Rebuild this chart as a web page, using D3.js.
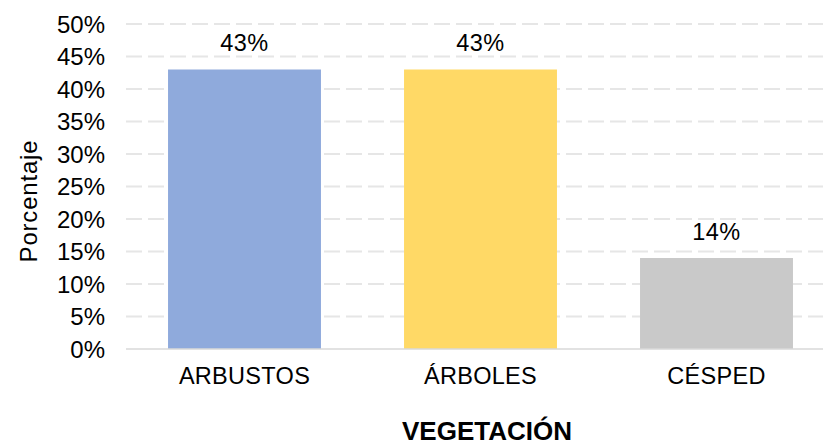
<!DOCTYPE html>
<html>
<head>
<meta charset="utf-8">
<script src="https://cdn.jsdelivr.net/npm/d3@7"></script>
<style>
  body { margin: 0; background: #fff; }
  text { font-family: "Liberation Sans", Arial, sans-serif; fill: #000; }
</style>
</head>
<body>
<div id="chart"></div>
<script>
// --- datos ---
const categorias = ["ARBUSTOS", "ÁRBOLES", "CÉSPED"];
const valores = [43, 43, 14];
const colores = ["#8faadc", "#ffd966", "#c9c9c9"];
const ticks = [0, 5, 10, 15, 20, 25, 30, 35, 40, 45, 50];

const W = 823, H = 448;
const svg = d3.select("#chart").append("svg")
    .attr("width", W).attr("height", H);

const x = d3.scaleBand()
    .domain(categorias)
    .range([126.5, 834.5])
    .paddingInner(0.352)
    .paddingOuter(0.176);

const y = d3.scaleLinear().domain([0, 50]).range([349, 24]);

// líneas de cuadrícula
svg.selectAll(".grid")
    .data(ticks.filter(d => d > 0))
    .enter().append("line")
    .attr("x1", 126).attr("x2", W)
    .attr("y1", d => y(d)).attr("y2", d => y(d))
    .attr("stroke", "#e6e6e6")
    .attr("stroke-width", 2)
    .attr("stroke-dasharray", "16,6");

// etiquetas del eje Y
svg.selectAll(".ytick")
    .data(ticks)
    .enter().append("text")
    .attr("x", 105)
    .attr("y", d => y(d) + 8.5)
    .attr("text-anchor", "end")
    .style("font-size", "24px")
    .text(d => d + "%");

// barras
svg.selectAll(".bar")
    .data(valores)
    .enter().append("rect")
    .attr("x", (d, i) => x(categorias[i]))
    .attr("width", x.bandwidth())
    .attr("y", d => y(d))
    .attr("height", d => y(0) - y(d))
    .attr("fill", (d, i) => colores[i]);

// eje X
svg.append("line")
    .attr("x1", 126).attr("x2", W)
    .attr("y1", y(0)).attr("y2", y(0))
    .attr("stroke", "#d9d9d9")
    .attr("stroke-width", 1.5);

// etiquetas de valor
svg.selectAll(".lbl")
    .data(valores)
    .enter().append("text")
    .attr("x", (d, i) => x(categorias[i]) + x.bandwidth() / 2)
    .attr("y", d => y(d) - 18.5)
    .attr("text-anchor", "middle")
    .style("font-size", "23.5px")
    .style("letter-spacing", "0.5px")
    .text(d => d + "%");

// categorías
svg.selectAll(".cat")
    .data(categorias)
    .enter().append("text")
    .attr("x", d => x(d) + x.bandwidth() / 2)
    .attr("y", 383.5)
    .attr("text-anchor", "middle")
    .style("font-size", "23.5px")
    .style("letter-spacing", "0.3px")
    .text(d => d);

// título del eje X
svg.append("text")
    .attr("x", 487)
    .attr("y", 440)
    .attr("text-anchor", "middle")
    .style("font-size", "26px")
    .style("font-weight", "bold")
    .text("VEGETACIÓN");

// título del eje Y
svg.append("text")
    .attr("transform", "translate(37,201) rotate(-90)")
    .attr("text-anchor", "middle")
    .style("font-size", "24px")
    .style("letter-spacing", "0.8px")
    .text("Porcentaje");
</script>
</body>
</html>
